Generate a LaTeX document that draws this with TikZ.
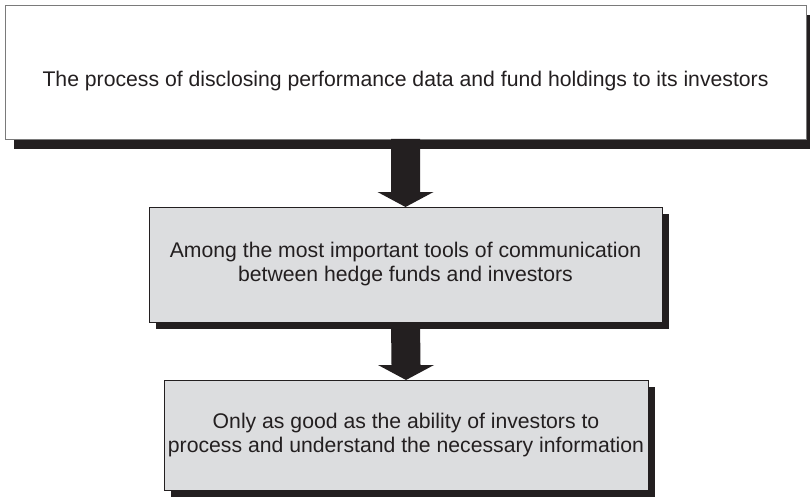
\documentclass[tikz,border=0pt]{standalone}
\usepackage{fontspec}
\setmainfont{Liberation Sans}
\usetikzlibrary{calc,shadows}
\definecolor{ink}{HTML}{231F20}
\definecolor{boxgray}{HTML}{DCDDDF}
\definecolor{edgegray}{HTML}{7A7A7A}
\begin{document}
\begin{tikzpicture}[x=1pt,y=-1pt,
  every node/.style={inner sep=0pt,outer sep=0pt},
  boxfont/.style={text=ink,font=\fontsize{21.2}{24}\selectfont},
  whitebox/.style={boxfont,draw=edgegray,line width=0.8pt,fill=white,anchor=north west,
     drop shadow={shadow xshift=9pt,shadow yshift=-10pt,fill=ink,opacity=1}},
  graybox/.style={boxfont,align=center,draw=ink,line width=0.8pt,fill=boxgray,anchor=north west,
     drop shadow={shadow xshift=7pt,shadow yshift=-7pt,fill=ink,opacity=1}},
  bigarrow/.style={fill=ink}]
\useasboundingbox[fill=white] (0,0) rectangle (810,497);
\node[whitebox,minimum width=801pt,minimum height=134pt,text height=30pt,text depth=0pt] (top) at (5,5)
  {The process of disclosing performance data and fund holdings to its investors};
\node[graybox,minimum width=513pt,minimum height=115pt] (mid) at (149,207)
  {Among the most important tools of communication\\between hedge funds and investors};
\node[graybox,minimum width=484pt,minimum height=110pt] (bot) at (164,380)
  {Only as good as the ability of investors to\\process and understand the necessary information};
\fill[bigarrow] ($(top.south)+(-14.5,0)$) -- ($(mid.north)+(-14.5,-15)$) -- ($(mid.north)+(-28,-15)$)
  -- (mid.north) -- ($(mid.north)+(28,-15)$) -- ($(mid.north)+(14.5,-15)$) -- ($(top.south)+(14.5,0)$) -- cycle;
\fill[bigarrow] ($(mid.south)+(-14.5,0)$) -- ($(bot.north)+(-14.5,-15)$) -- ($(bot.north)+(-28,-15)$)
  -- (bot.north) -- ($(bot.north)+(28,-15)$) -- ($(bot.north)+(14.5,-15)$) -- ($(mid.south)+(14.5,0)$) -- cycle;
\end{tikzpicture}
\end{document}
